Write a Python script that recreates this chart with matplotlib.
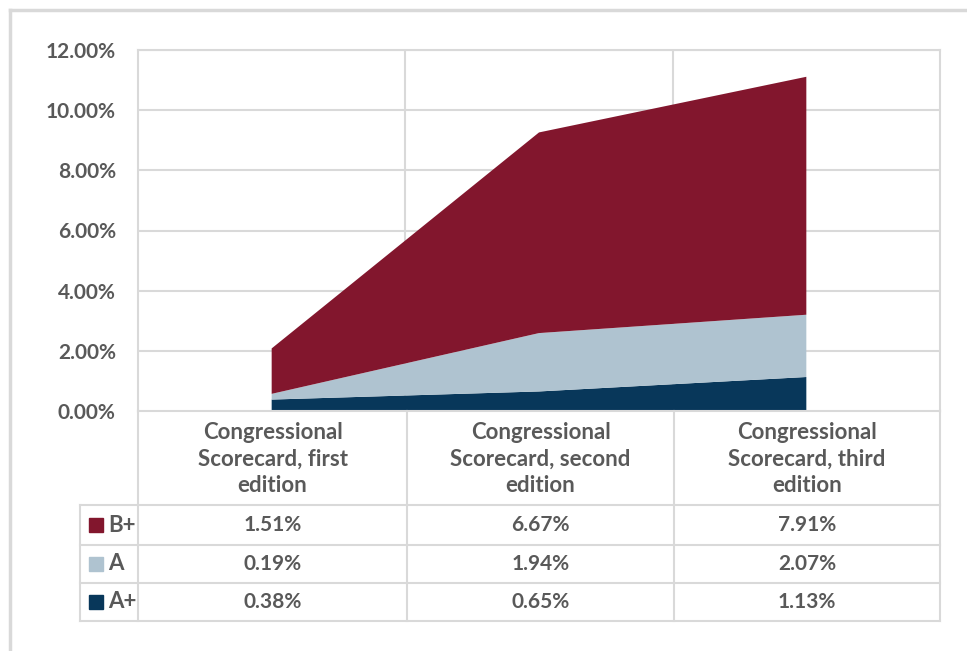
import matplotlib.pyplot as plt
import numpy as np
from matplotlib.lines import Line2D
from matplotlib.patches import Rectangle

plt.rcParams['font.family'] = ['Lato', 'DejaVu Sans']

editions = ["Congressional\nScorecard, first\nedition",
            "Congressional\nScorecard, second\nedition",
            "Congressional\nScorecard, third\nedition"]
a_plus = [0.38, 0.65, 1.13]
a_grade = [0.19, 1.94, 2.07]
b_plus = [1.51, 6.67, 7.91]

series = [("A+", a_plus, "#08375a"), ("A", a_grade, "#afc3d0"), ("B+", b_plus, "#82162d")]
grid_c = "#d9d9d9"
text_c = "#595959"

W, H = 967, 651
fig = plt.figure(figsize=(W / 100, H / 100), dpi=100)

def fx(px):
    return px / W

def fy(py):
    return 1 - py / H

# outer frame
fig.add_artist(Line2D([fx(10), fx(10)], [fy(10), 0], color=grid_c, lw=2.5))
fig.add_artist(Line2D([fx(10), 1], [fy(10), fy(10)], color=grid_c, lw=2.5))

left, right, top, bottom = 138, 940, 50, 411
ax = fig.add_axes([fx(left), fy(bottom), fx(right - left), fy(top) - fy(bottom)])
x = np.arange(len(editions))
ax.stackplot(x, a_plus, a_grade, b_plus, colors=[c for _, _, c in series], zorder=3)
ax.set_xlim(-0.5, 2.5)
ax.set_ylim(0, 12)
ax.set_yticks(np.arange(0, 13, 2))
ax.set_yticklabels([f"{v:.2f}%" for v in np.arange(0, 13, 2)], fontsize=15,
                   color=text_c, fontweight='bold')
ax.tick_params(axis='y', length=0, pad=16)
ax.set_xticks([])
for yv in np.arange(2, 13, 2):
    ax.axhline(yv, color=grid_c, lw=1.5, zorder=1)
for xv in [0.5, 1.5]:
    ax.axvline(xv, color=grid_c, lw=1.5, zorder=1)
for s in ['top', 'right', 'bottom', 'left']:
    ax.spines[s].set_color(grid_c)
    ax.spines[s].set_linewidth(1.5)
ax.spines['bottom'].set_zorder(4)

# data table under the axis
col_edges = [left, 407, 674, right]
row_edges = [505, 545, 583, 621]
leg_left = 80

def hline(y, x0, x1):
    fig.add_artist(Line2D([fx(x0), fx(x1)], [fy(y), fy(y)], color=grid_c, lw=1.5))

def vline(xp, y0, y1):
    fig.add_artist(Line2D([fx(xp), fx(xp)], [fy(y0), fy(y1)], color=grid_c, lw=1.5))

for xp in col_edges:
    vline(xp, bottom, row_edges[-1])
vline(leg_left, row_edges[0], row_edges[-1])
for yp in row_edges:
    hline(yp, leg_left, right)

for i, lab in enumerate(editions):
    cx = (col_edges[i] + col_edges[i + 1]) / 2
    fig.text(fx(cx), fy((bottom + row_edges[0]) / 2 + 1), lab, ha='center', va='center',
             fontsize=16, color=text_c, fontweight='bold', linespacing=1.3)

rows = list(reversed(series))
for r, (name, vals, color) in enumerate(rows):
    cy = (row_edges[r] + row_edges[r + 1]) / 2
    fig.add_artist(Rectangle((fx(89), fy(cy + 7)), fx(14), fy(cy - 7) - fy(cy + 7),
                             color=color, transform=fig.transFigure))
    fig.text(fx(108), fy(cy), name, ha='left', va='center', fontsize=16,
             color=text_c, fontweight='bold')
    for i, v in enumerate(vals):
        cx = (col_edges[i] + col_edges[i + 1]) / 2
        fig.text(fx(cx), fy(cy), f"{v:.2f}%", ha='center', va='center',
                 fontsize=15, color=text_c, fontweight='bold')

fig.savefig("out.png", dpi=100)
